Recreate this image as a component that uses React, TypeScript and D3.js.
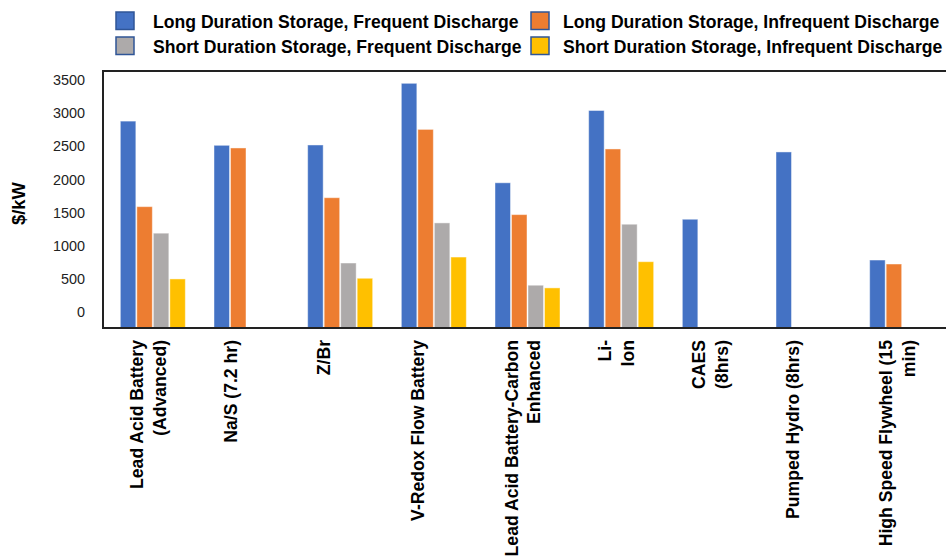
import * as d3 from "d3";

const WIDTH = 946;
const HEIGHT = 559;
const FRAME = { left: 103, top: 71, bottom: 328, right: 946 };
const FONT = "'Liberation Sans', Arial, sans-serif";

const CATEGORIES = [
  ["Lead Acid Battery", "(Advanced)"],
  ["Na/S (7.2 hr)"],
  ["Z/Br"],
  ["V-Redox Flow Battery"],
  ["Lead Acid Battery-Carbon", "Enhanced"],
  ["Li-", "Ion"],
  ["CAES", "(8hrs)"],
  ["Pumped Hydro (8hrs)"],
  ["High Speed Flywheel (15", "min)"],
];

const SERIES = [
  "Long Duration Storage, Frequent Discharge",
  "Long Duration Storage, Infrequent Discharge",
  "Short Duration Storage, Frequent Discharge",
  "Short Duration Storage, Infrequent Discharge",
];
const COLORS = ["#4472C4", "#ED7D31", "#ADAAAA", "#FFC000"];

// $/kW, null = no bar
const LONG_FREQUENT = [2880, 2515, 2520, 3450, 1950, 3040, 1400, 2415, 785];
const LONG_INFREQUENT = [1590, 2475, 1725, 2755, 1470, 2460, null, null, 725];
const SHORT_FREQUENT = [1190, null, 740, 1345, 405, 1325, null, null, null];
const SHORT_INFREQUENT = [500, null, 510, 830, 365, 760, null, null, null];
const VALUES = [LONG_FREQUENT, LONG_INFREQUENT, SHORT_FREQUENT, SHORT_INFREQUENT];

const Y_TICKS = [0, 500, 1000, 1500, 2000, 2500, 3000, 3500];

// legend grid: marker x, text x per column, marker y per row
const LEGEND_COL = [
  { marker: 116, text: 153 },
  { marker: 531, text: 563 },
];
const LEGEND_ROW = [12, 37];

export default function App() {
  const keys = CATEGORIES.map((c) => c.join(" "));

  const x0 = d3.scaleBand().domain(keys).range([106, 949]).paddingInner(0);
  const x1 = d3
    .scaleBand()
    .domain(SERIES)
    .range([-33, 33])
    .paddingInner(0);
  // the axis crosses below zero, so bars rise from the frame bottom
  const y = d3.scaleLinear().domain([-240, 3500]).range([FRAME.bottom, 80]);

  return (
    <svg
      width={WIDTH}
      height={HEIGHT}
      style={{ position: "absolute", left: 0, top: 0, background: "#fff" }}
      fontFamily={FONT}
    >
      {/* legend */}
      {SERIES.map((s, i) => {
        const col = LEGEND_COL[i % 2];
        const ly = LEGEND_ROW[Math.floor(i / 2)];
        return (
          <g key={s}>
            <rect
              x={col.marker}
              y={ly}
              width={18}
              height={17.5}
              fill={COLORS[i]}
              stroke="#2F5597"
              strokeWidth={1.5}
            />
            <text
              x={col.text}
              y={ly + 16}
              fontSize={17.6}
              fontWeight="bold"
              fill="#000"
            >
              {s}
            </text>
          </g>
        );
      })}

      {/* bars */}
      {keys.map((k, ci) => (
        <g key={k} transform={`translate(${x0(k)! + x0.bandwidth() / 2},0)`}>
          {SERIES.map((s, si) => {
            const v = VALUES[si][ci];
            if (v == null) return null;
            return (
              <rect
                key={s}
                x={x1(s)! + 0.5}
                y={y(v)}
                width={x1.bandwidth() - 1}
                height={y(-240) - y(v)}
                fill={COLORS[si]}
                stroke="#fff"
                strokeOpacity={0.45}
                strokeWidth={1}
              />
            );
          })}
        </g>
      ))}

      {/* frame */}
      <path
        d={`M${FRAME.right},${FRAME.top}H${FRAME.left}V${FRAME.bottom}H${FRAME.right}`}
        fill="none"
        stroke="#222"
        strokeWidth={2}
      />

      {/* y tick labels */}
      {Y_TICKS.map((t) => (
        <text
          key={t}
          x={85}
          y={y(t)}
          dy="0.35em"
          textAnchor="end"
          fontSize={14.4}
          fill="#222"
        >
          {t}
        </text>
      ))}

      {/* y title */}
      <text
        transform={`translate(19,${(FRAME.top + FRAME.bottom) / 2 + 4}) rotate(-90)`}
        textAnchor="middle"
        dy="0.35em"
        fontSize={18.4}
        fontWeight="bold"
        fill="#000"
      >
        $/kW
      </text>

      {/* category labels */}
      {CATEGORIES.map((lines, ci) => {
        const cx = x0(keys[ci])! + x0.bandwidth() / 2;
        return lines.map((line, li) => (
          <text
            key={`${ci}-${li}`}
            transform={`translate(${cx - 16 + li * 22.5},340) rotate(-90)`}
            textAnchor="end"
            dy="0.35em"
            fontSize={17.6}
            fontWeight="bold"
            fill="#000"
          >
            {line}
          </text>
        ));
      })}
    </svg>
  );
}
